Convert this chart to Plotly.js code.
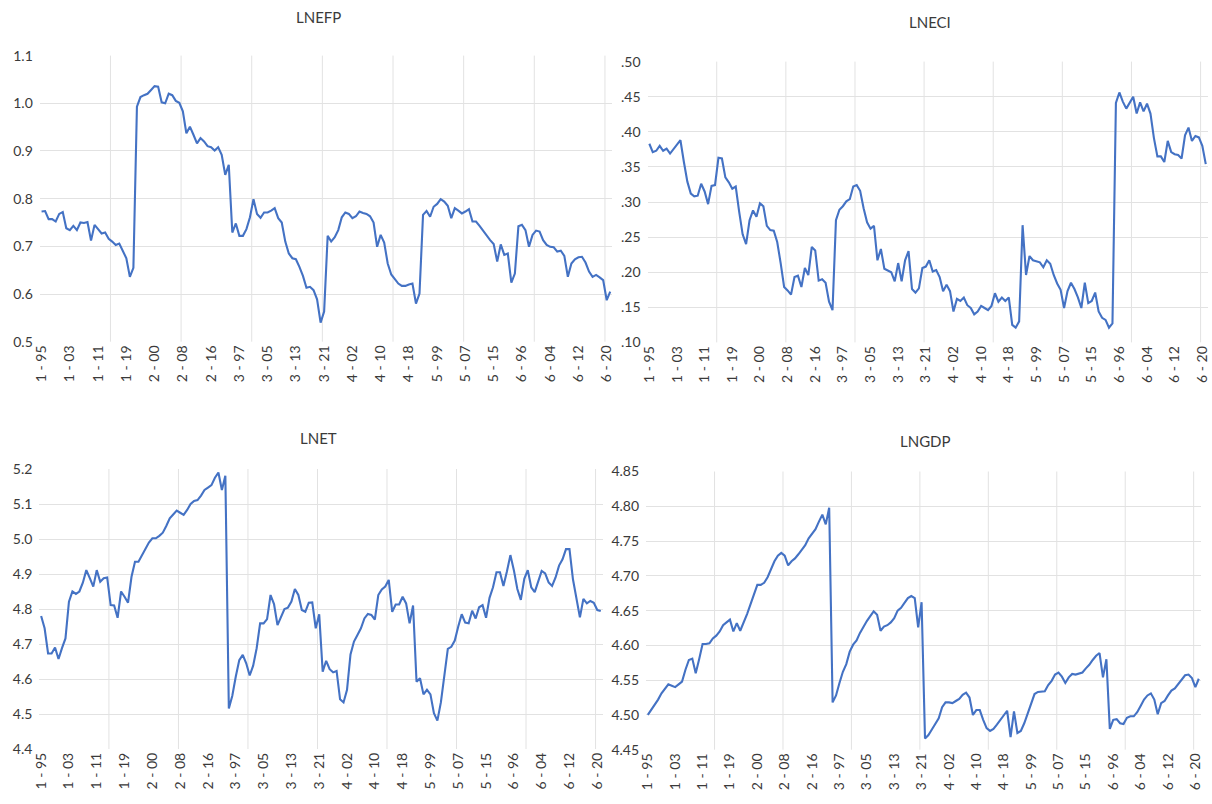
<!DOCTYPE html>
<html>
<head>
<meta charset="utf-8">
<script src="https://cdn.plot.ly/plotly-3.0.1.min.js"></script>
<style>
html,body{margin:0;padding:0;background:#ffffff;}
#chart{width:1212px;height:804px;}
</style>
</head>
<body>
<div id="chart"></div>
<script>
// ---------- data ----------
const units = [1, 2, 3, 4, 5, 6];
const yearLabels = ["95","96","97","98","99","00","01","02","03","04","05","06","07","08","09",
                    "10","11","12","13","14","15","16","17","18","19","20","21"];
const xTickLabels = ["1 - 95","1 - 03","1 - 11","1 - 19","2 - 00","2 - 08","2 - 16","3 - 97","3 - 05",
                     "3 - 13","3 - 21","4 - 02","4 - 10","4 - 18","5 - 99","5 - 07","5 - 15","6 - 96",
                     "6 - 04","6 - 12","6 - 20"];

const lnefp = [
 0.773,0.774,0.757,0.757,0.752,0.768,0.772,0.738,0.734,0.743,
 0.734,0.750,0.749,0.751,0.712,0.745,0.736,0.727,0.729,0.716,
 0.710,0.703,0.706,0.692,0.675,0.636,0.655,0.993,1.013,1.017,
 1.020,1.028,1.036,1.035,1.002,1.000,1.020,1.017,1.005,1.001,
 0.983,0.937,0.951,0.934,0.916,0.927,0.920,0.910,0.908,0.901,
 0.908,0.892,0.850,0.871,0.729,0.748,0.722,0.722,0.736,0.761,
 0.799,0.768,0.760,0.771,0.771,0.775,0.780,0.759,0.750,0.710,
 0.685,0.675,0.673,0.657,0.638,0.613,0.615,0.608,0.589,0.540,
 0.563,0.722,0.710,0.719,0.734,0.761,0.771,0.768,0.759,0.763,
 0.773,0.770,0.768,0.763,0.750,0.699,0.724,0.708,0.664,0.641,
 0.631,0.622,0.617,0.617,0.620,0.622,0.580,0.601,0.766,0.774,
 0.762,0.783,0.789,0.799,0.794,0.785,0.759,0.780,0.775,0.769,
 0.773,0.778,0.752,0.752,0.743,0.733,0.722,0.713,0.705,0.668,
 0.704,0.682,0.685,0.624,0.643,0.742,0.745,0.734,0.699,0.724,
 0.733,0.731,0.713,0.703,0.699,0.698,0.689,0.691,0.680,0.636,
 0.664,0.673,0.677,0.678,0.666,0.647,0.636,0.640,0.635,0.629,
 0.587,0.605
];

const lneci = [
 0.383,0.371,0.373,0.380,0.373,0.376,0.369,0.375,0.382,0.388,
 0.357,0.329,0.312,0.308,0.309,0.326,0.315,0.297,0.323,0.324,
 0.363,0.362,0.335,0.328,0.319,0.322,0.286,0.254,0.240,0.274,
 0.288,0.279,0.298,0.294,0.266,0.260,0.259,0.243,0.213,0.179,
 0.174,0.168,0.193,0.195,0.179,0.206,0.196,0.236,0.231,0.188,
 0.190,0.185,0.158,0.146,0.274,0.289,0.294,0.301,0.304,0.322,
 0.324,0.316,0.291,0.271,0.262,0.266,0.217,0.233,0.205,0.203,
 0.200,0.187,0.213,0.187,0.217,0.230,0.176,0.171,0.177,0.206,
 0.208,0.217,0.201,0.203,0.193,0.173,0.182,0.173,0.144,0.162,
 0.159,0.164,0.153,0.149,0.140,0.144,0.152,0.149,0.146,0.152,
 0.170,0.158,0.164,0.159,0.164,0.125,0.121,0.130,0.267,0.196,
 0.223,0.217,0.215,0.214,0.207,0.217,0.212,0.196,0.184,0.175,
 0.149,0.173,0.185,0.176,0.164,0.149,0.185,0.156,0.159,0.171,
 0.144,0.135,0.132,0.121,0.127,0.441,0.456,0.443,0.433,0.442,
 0.450,0.426,0.442,0.429,0.440,0.426,0.391,0.365,0.365,0.357,
 0.387,0.371,0.368,0.367,0.362,0.395,0.406,0.387,0.394,0.392,
 0.380,0.354
];

const lnet = [
 4.780,4.745,4.673,4.673,4.690,4.657,4.688,4.716,4.821,4.850,
 4.843,4.850,4.875,4.911,4.888,4.864,4.911,4.878,4.888,4.890,
 4.811,4.810,4.775,4.850,4.835,4.818,4.892,4.935,4.935,4.954,
 4.971,4.990,5.002,5.002,5.009,5.018,5.037,5.059,5.070,5.081,
 5.075,5.069,5.083,5.100,5.109,5.111,5.124,5.140,5.147,5.154,
 5.175,5.190,5.140,5.181,4.516,4.552,4.607,4.654,4.669,4.645,
 4.610,4.638,4.688,4.759,4.759,4.771,4.840,4.814,4.754,4.778,
 4.800,4.804,4.821,4.857,4.840,4.797,4.792,4.818,4.819,4.745,
 4.785,4.621,4.652,4.628,4.619,4.623,4.542,4.533,4.569,4.670,
 4.707,4.726,4.745,4.773,4.786,4.783,4.770,4.840,4.856,4.864,
 4.883,4.792,4.813,4.813,4.835,4.816,4.759,4.810,4.592,4.602,
 4.556,4.569,4.556,4.502,4.481,4.533,4.616,4.686,4.692,4.710,
 4.750,4.785,4.761,4.759,4.795,4.773,4.805,4.811,4.775,4.832,
 4.862,4.905,4.905,4.866,4.907,4.954,4.911,4.857,4.826,4.886,
 4.911,4.862,4.848,4.881,4.909,4.902,4.876,4.866,4.890,4.924,
 4.942,4.971,4.971,4.885,4.832,4.776,4.829,4.816,4.823,4.818,
 4.797,4.794
];

const lngdp = [
 4.500,4.507,4.514,4.522,4.531,4.538,4.544,4.542,4.540,4.544,
 4.548,4.565,4.579,4.581,4.560,4.580,4.602,4.602,4.603,4.610,
 4.614,4.620,4.629,4.633,4.637,4.620,4.632,4.621,4.632,4.645,
 4.659,4.673,4.687,4.687,4.690,4.698,4.710,4.721,4.729,4.733,
 4.729,4.715,4.721,4.725,4.731,4.738,4.744,4.754,4.760,4.767,
 4.778,4.788,4.774,4.798,4.518,4.528,4.546,4.562,4.573,4.591,
 4.601,4.607,4.618,4.627,4.635,4.642,4.649,4.644,4.621,4.627,
 4.629,4.633,4.639,4.650,4.654,4.661,4.668,4.671,4.668,4.626,
 4.662,4.466,4.471,4.479,4.487,4.495,4.511,4.518,4.518,4.517,
 4.520,4.523,4.529,4.532,4.525,4.500,4.507,4.507,4.493,4.481,
 4.477,4.480,4.486,4.493,4.499,4.506,4.468,4.505,4.474,4.477,
 4.488,4.503,4.518,4.530,4.533,4.534,4.534,4.543,4.549,4.558,
 4.561,4.555,4.546,4.554,4.559,4.558,4.559,4.561,4.567,4.572,
 4.579,4.585,4.589,4.554,4.580,4.480,4.493,4.494,4.488,4.487,
 4.496,4.498,4.498,4.504,4.513,4.522,4.528,4.531,4.522,4.501,
 4.517,4.520,4.528,4.535,4.538,4.544,4.550,4.557,4.558,4.553,
 4.540,4.552
];

const titles = ["LNEFP", "LNECI", "LNET", "LNGDP"];
const yTicks2 = [0.10, 0.15, 0.20, 0.25, 0.30, 0.35, 0.40, 0.45, 0.50];
const yTickText2 = [".10", ".15", ".20", ".25", ".30", ".35", ".40", ".45", ".50"];

// ---------- build ----------
const categories = [];
units.forEach(u => yearLabels.forEach(y => categories.push(u + " - " + y)));

const W = 1212, H = 804;
const FONT = "Lato, 'Open Sans', 'Liberation Sans', sans-serif";
const TEXT = "#3a3a3a";
const GRID = "#E2E2E2";
const LINE = "#4472C4";

// plot-area boxes in pixels: [left, right, top, bottom]
const boxes = [
  [39.8, 612.0, 55.6, 341.7],
  [647.6, 1207.5, 61.6, 342.4],
  [39.4, 602.5, 469.0, 749.0],
  [646.1, 1200.5, 471.5, 749.7]
];
const titlePos = [[318, 17], [930, 22], [318, 438], [925, 441]];
const series = [lnefp, lneci, lnet, lngdp];
const yCfg = [
  {range: [0.5, 1.1], tick0: 0.5, dtick: 0.1, tickformat: ".1f"},
  {range: [0.10, 0.50], tickmode: "array", tickvals: yTicks2, ticktext: yTickText2},
  {range: [4.4, 5.2], tick0: 4.4, dtick: 0.1, tickformat: ".1f"},
  {range: [4.45, 4.85], tick0: 4.45, dtick: 0.05, tickformat: ".2f"}
];

const data = [];
const layout = {
  width: W, height: H,
  margin: {l: 0, r: 0, t: 0, b: 0, pad: 0},
  paper_bgcolor: "#ffffff", plot_bgcolor: "#ffffff",
  showlegend: false,
  font: {family: FONT, color: TEXT},
  annotations: [], shapes: []
};

series.forEach((vals, i) => {
  const n = i + 1;
  const xa = "xaxis" + n, ya = "yaxis" + n;
  const b = boxes[i];
  data.push({
    type: "scatter", mode: "lines",
    x: categories, y: vals,
    xaxis: "x" + n, yaxis: "y" + n,
    line: {color: LINE, width: 2.1},
    hoverinfo: "x+y"
  });
  layout[xa] = {
    type: "category",
    domain: [b[0] / W, Math.min(1, b[1] / W)],
    anchor: "y" + n,
    range: [-0.5, categories.length - 0.5],
    tickmode: "array", tickvals: xTickLabels, ticktext: xTickLabels,
    tickangle: -90,
    tickfont: {family: FONT, size: 14, color: TEXT},
    showgrid: false, zeroline: false, showline: false, ticks: "",
    automargin: false, fixedrange: true
  };
  layout[ya] = Object.assign({
    domain: [1 - b[3] / H, 1 - b[2] / H],
    anchor: "x" + n,
    showgrid: true, gridcolor: GRID, gridwidth: 1,
    zeroline: false, showline: false, ticks: "",
    tickfont: {family: FONT, size: 14, color: TEXT},
    ticklabelstandoff: 6,
    automargin: false, fixedrange: true
  }, yCfg[i]);
  // vertical gridlines every 20 categories
  for (let k = 20; k < categories.length; k += 20) {
    layout.shapes.push({
      type: "line", layer: "below",
      xref: "x" + n, x0: k - 0.5, x1: k - 0.5,
      yref: "y" + n + " domain", y0: 0, y1: 1,
      line: {color: GRID, width: 1}
    });
  }
  layout.annotations.push({
    text: titles[i], showarrow: false,
    xref: "paper", yref: "paper",
    x: titlePos[i][0] / W, y: 1 - titlePos[i][1] / H,
    xanchor: "center", yanchor: "middle",
    font: {family: FONT, size: 15, color: TEXT}
  });
});

Plotly.newPlot("chart", data, layout, {displayModeBar: false, staticPlot: true});
</script>
</body>
</html>
